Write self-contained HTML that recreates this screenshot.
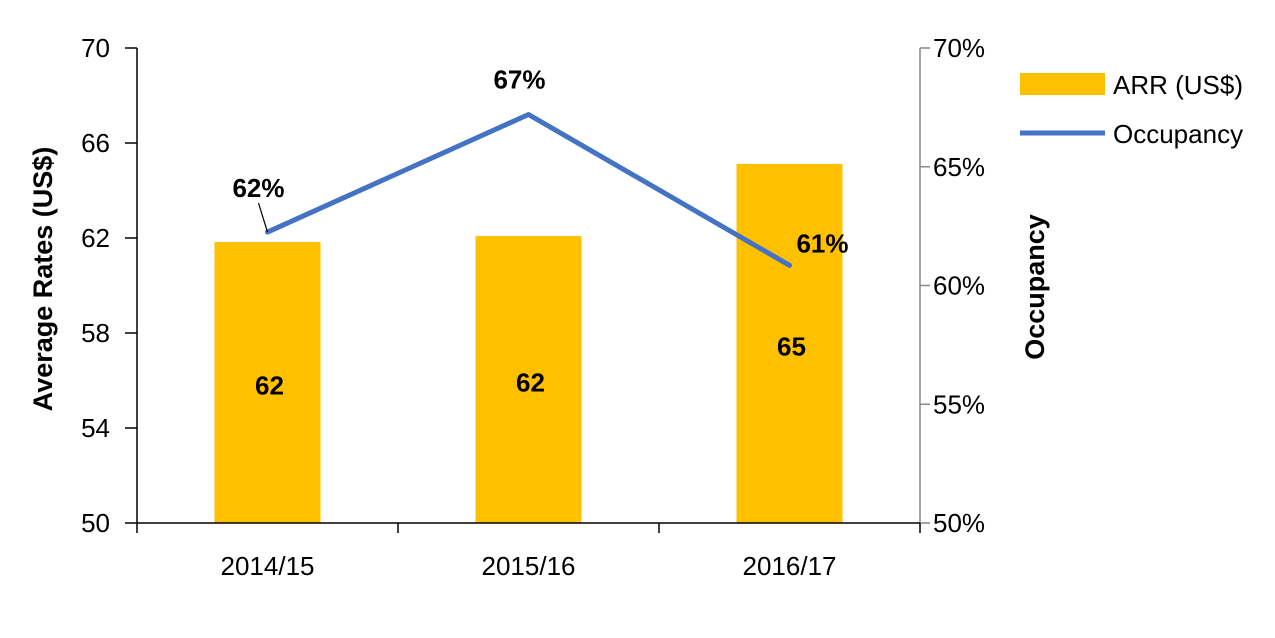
<!DOCTYPE html>
<html><head><meta charset="utf-8"><style>
body{margin:0;background:#fff;width:1275px;height:633px;overflow:hidden}
svg{font-family:"Liberation Sans",Arial,sans-serif}
</style></head><body>
<svg id="chart" width="1275" height="633" xmlns="http://www.w3.org/2000/svg"></svg>
<script>
const categories = ["2014/15","2015/16","2016/17"];
const arrValues = [61.83, 62.08, 65.12];
const arrLabels = ["62","62","65"];
const occValues = [62.25, 67.2, 60.85];
const occLabels = ["62%","67%","61%"];
const leftTicks = [50,54,58,62,66,70];
const rightTicks = [50,55,60,65,70];

const svg = document.getElementById('chart');
const NS = "http://www.w3.org/2000/svg";
const X0 = 137, X1 = 920, Y0 = 523, Y1 = 48;
const FS = 26;
const band = (X1 - X0) / categories.length;
const xc = i => X0 + band * (i + 0.5);
const yL = v => Y0 - (v - 50) / 20 * (Y0 - Y1);
const yR = v => Y0 - (v - 50) / 20 * (Y0 - Y1);
function el(tag, attrs, text){
  const e = document.createElementNS(NS, tag);
  for (const k in attrs) e.setAttribute(k, attrs[k]);
  if (text !== undefined) e.textContent = text;
  svg.appendChild(e);
  return e;
}
let e;
arrValues.forEach((v,i)=>{
  e = el('rect',{x:xc(i)-53,y:yL(v),width:106,height:Y0-yL(v),fill:'#FFC000'});
  
  
  e = el('text',{x:xc(i)+2,y:(yL(v)+Y0)/2+12,'text-anchor':'middle','font-size':FS,'font-weight':'bold',fill:'#000'},arrLabels[i]);
  
  
});
e = el('line',{x1:X0,y1:Y1,x2:X0,y2:Y0,stroke:'#000','stroke-width':1.5});


e = el('line',{x1:X1,y1:Y1,x2:X1,y2:Y0,stroke:'#888','stroke-width':1.5});


e = el('line',{x1:X0,y1:Y0,x2:X1,y2:Y0,stroke:'#000','stroke-width':1.5});


leftTicks.forEach(t=>{
  e = el('line',{x1:X0-12,y1:yL(t),x2:X0,y2:yL(t),stroke:'#000','stroke-width':1.5});
  
  
  e = el('text',{x:110,y:yL(t)+9,'text-anchor':'end','font-size':FS,fill:'#000'},String(t));
  
  
});
rightTicks.forEach(t=>{
  e = el('line',{x1:X1,y1:yR(t),x2:X1+10,y2:yR(t),stroke:'#888','stroke-width':1.5});
  
  
  e = el('text',{x:933,y:yR(t)+9,'font-size':FS,fill:'#000'},t+'%');
  
  
});
for(let i=0;i<=categories.length;i++){
  e = el('line',{x1:X0+band*i,y1:Y0,x2:X0+band*i,y2:Y0+10,stroke:'#000','stroke-width':1.5});
  
  
}
categories.forEach((c,i)=>{
  e = el('text',{x:xc(i),y:575,'text-anchor':'middle','font-size':FS,fill:'#000'},c);
  
  
});
e = el('text',{x:0,y:0,transform:'translate(52,279) rotate(-90)','text-anchor':'middle','font-size':27,'font-weight':'bold',fill:'#000'},'Average Rates (US$)');


e = el('text',{x:0,y:0,transform:'translate(1044,287) rotate(-90)','text-anchor':'middle','font-size':27,'font-weight':'bold',fill:'#000'},'Occupancy');


const pts = occValues.map((v,i)=>xc(i)+','+yR(v)).join(' ');
e = el('polyline',{points:pts,fill:'none',stroke:'#4472C4','stroke-width':5,'stroke-linejoin':'round','stroke-linecap':'round'});


const labOff = [[-9,-35],[-9,-26],[33,-13]];
occValues.forEach((v,i)=>{
  e = el('text',{x:xc(i)+labOff[i][0],y:yR(v)+labOff[i][1],'text-anchor':'middle','font-size':FS,'font-weight':'bold',fill:'#000'},occLabels[i]);
  
  
});
e = el('line',{x1:xc(0)-9,y1:yR(occValues[0])-29,x2:xc(0),y2:yR(occValues[0]),stroke:'#000','stroke-width':1.2});


e = el('rect',{x:1020,y:73,width:85,height:22,fill:'#FFC000'});


e = el('text',{x:1113,y:94,'font-size':FS,fill:'#000'},'ARR (US$)');


e = el('line',{x1:1020,y1:133,x2:1105,y2:133,stroke:'#4472C4','stroke-width':5});


e = el('text',{x:1113,y:143,'font-size':FS,fill:'#000'},'Occupancy');


</script>
</body></html>
